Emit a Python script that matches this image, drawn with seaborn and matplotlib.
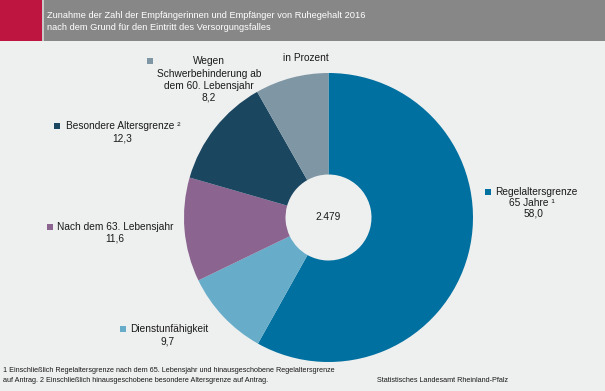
import numpy as np
import matplotlib
matplotlib.use("Agg")
import matplotlib.pyplot as plt
import seaborn as sns
from matplotlib.patches import Rectangle

# Daten (Anteile in Prozent, im Uhrzeigersinn ab 12 Uhr)
kategorien = ["Regelaltersgrenze 65 Jahre", "Dienstunfähigkeit", "Nach dem 63. Lebensjahr",
              "Besondere Altersgrenze", "Wegen Schwerbehinderung ab dem 60. Lebensjahr"]
anteile = [58.0, 9.7, 11.6, 12.3, 8.2]
anteil_texte = ["58,0", "9,7", "11,6", "12,3", "8,2"]
farben = ["#0070A0", "#67ADCA", "#8B6590", "#1B4660", "#7F97A5"]
gesamt = "2.479"

sns.set_theme(style="white")
plt.rcParams['font.family'] = ['Liberation Sans', 'DejaVu Sans']

W, H = 605, 391
BG = "#EEEFEF"
fig = plt.figure(figsize=(W / 100, H / 100), dpi=100, facecolor=BG)


def px(x, y):
    # Pixel -> Figure-Koordinaten
    return x / W, 1 - y / H


# Kopfzeile
fig.patches.append(Rectangle((0, 1 - 41 / H), 1, 41 / H, transform=fig.transFigure,
                             facecolor="#878787", edgecolor="none", zorder=0))
fig.patches.append(Rectangle((0, 1 - 41 / H), 42 / W, 41 / H, transform=fig.transFigure,
                             facecolor="#BE1540", edgecolor="none", zorder=1))
fig.patches.append(Rectangle((42 / W, 1 - 41 / H), 1.5 / W, 41 / H, transform=fig.transFigure,
                             facecolor="#C8C8C8", edgecolor="none", zorder=1))
fig.text(*px(47, 15), "Zunahme der Zahl der Empfängerinnen und Empfänger von Ruhegehalt 2016",
         color="white", fontsize=6.7, va="center", ha="left")
fig.text(*px(47, 28), "nach dem Grund für den Eintritt des Versorgungsfalles",
         color="white", fontsize=6.7, va="center", ha="left")

# Ringdiagramm
cx, cy, r = 328.5, 217.5, 144.5
ax = fig.add_axes([(cx - r) / W, (H - cy - r) / H, 2 * r / W, 2 * r / H])
ax.set_facecolor("none")
ax.pie(anteile, colors=farben, startangle=90, counterclock=False, radius=1,
       wedgeprops=dict(width=1 - 43 / r, edgecolor="none", linewidth=0))
ax.set_xlim(-1, 1)
ax.set_ylim(-1, 1)
ax.set_aspect("equal")
ax.axis("off")
ax.text(0, 0, gesamt, ha="center", va="center", fontsize=7.3, color="#1a1a1a")

fig.text(*px(306, 58), "in Prozent", ha="center", va="center", fontsize=7.3, color="#1a1a1a")

TXT = "#1a1a1a"


def marker(x, y, farbe):
    fig.patches.append(Rectangle(px(x - 3, y + 3), 6 / W, 6 / H, transform=fig.transFigure,
                                 facecolor=farbe, edgecolor="none"))


def label(x, y, text, ha="center"):
    fig.text(*px(x, y), text, ha=ha, va="center", fontsize=7.3, color=TXT)


# Regelaltersgrenze
marker(488, 192, farben[0])
label(495, 192, "Regelaltersgrenze", ha="left")
label(532, 203, "65 Jahre ¹")
label(533, 214, anteil_texte[0])

# Dienstunfähigkeit
marker(123, 329, farben[1])
label(130, 329, "Dienstunfähigkeit", ha="left")
label(168, 341, anteil_texte[1])

# Nach dem 63. Lebensjahr
marker(50, 227, farben[2])
label(57, 227, "Nach dem 63. Lebensjahr", ha="left")
label(115, 238, anteil_texte[2])

# Besondere Altersgrenze
marker(57, 126, farben[3])
label(66, 126, "Besondere Altersgrenze ²", ha="left")
label(122, 138, anteil_texte[3])

# Schwerbehinderung
marker(150, 61, farben[4])
label(209, 61, "Wegen")
label(209, 74, "Schwerbehinderung ab")
label(209, 86, "dem 60. Lebensjahr")
label(209, 98, anteil_texte[4])

# Fußnoten und Quelle
fig.text(*px(3, 370), "1 Einschließlich Regelaltersgrenze nach dem 65. Lebensjahr und hinausgeschobene Regelaltersgrenze",
         ha="left", va="center", fontsize=5.2, color=TXT)
fig.text(*px(3, 381), "auf Antrag. 2 Einschließlich hinausgeschobene besondere Altersgrenze auf Antrag.",
         ha="left", va="center", fontsize=5.2, color=TXT)
fig.text(*px(508, 381), "Statistisches Landesamt Rheinland-Pfalz",
         ha="right", va="center", fontsize=5.2, color=TXT)

fig.savefig("out.png", dpi=100, facecolor=BG)
